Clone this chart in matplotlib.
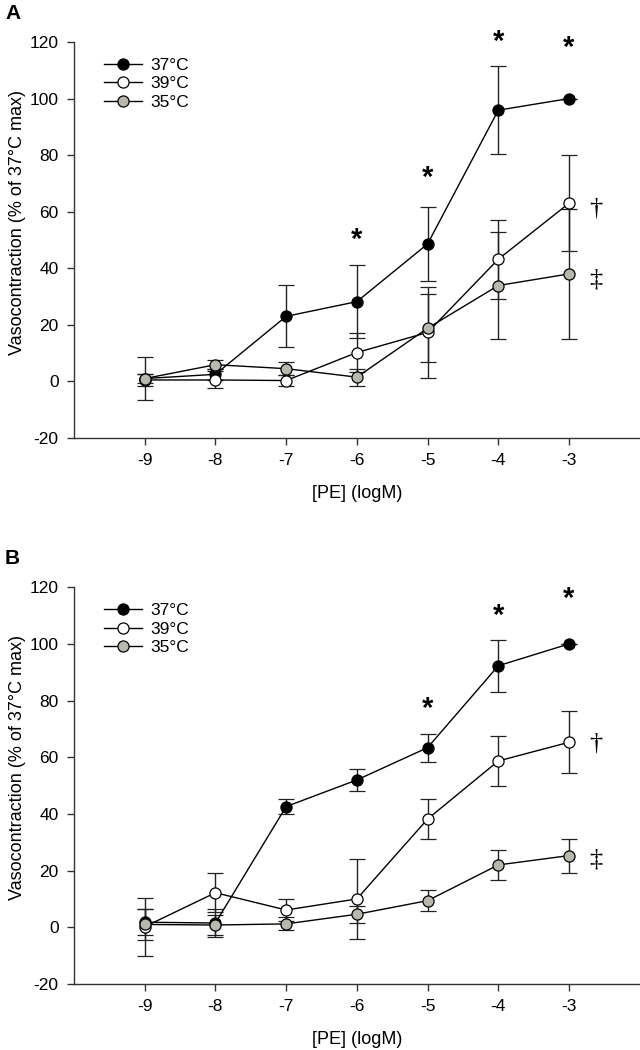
import matplotlib
matplotlib.use("Agg")
import matplotlib.pyplot as plt

plt.rcParams['font.family'] = ['Liberation Sans', 'DejaVu Sans']
plt.rcParams['axes.unicode_minus'] = False

# x positions (log M of phenylephrine)
conc = [-9, -8, -7, -6, -5, -4, -3]
labels = ['37°C', '39°C', '35°C']

# Panel A means and errors
a_37 = [1.0, 2.5, 23.0, 28.2, 48.6, 95.9, 100.0]
a_37_err = [7.5, 2.0, 11.0, 13.0, 13.0, 15.5, 0.0]
a_39 = [0.5, 0.5, 0.3, 10.2, 17.3, 43.2, 63.0]
a_39_err = [2.0, 3.0, 2.0, 7.0, 16.0, 14.0, 17.0]
a_35 = [1.0, 5.9, 4.5, 1.5, 18.8, 33.9, 38.0]
a_35_err = [1.5, 1.5, 2.2, 3.0, 12.0, 19.0, 23.0]

# Panel B means and errors
b_37 = [1.8, 1.5, 42.6, 52.0, 63.4, 92.3, 100.0]
b_37_err = [4.5, 5.0, 2.6, 3.8, 4.9, 9.1, 0.0]
b_39 = [0.2, 12.2, 6.1, 10.0, 38.2, 58.7, 65.3]
b_39_err = [10.2, 6.8, 4.0, 14.0, 7.0, 8.9, 11.0]
b_35 = [1.0, 0.8, 1.2, 4.6, 9.4, 22.0, 25.3]
b_35_err = [5.5, 3.5, 2.3, 3.0, 3.7, 5.2, 6.0]

# significance marks
a_star_x = [-6, -5, -4, -3]
a_star_y = [50, 72, 120, 118]
b_star_x = [-5, -4, -3]
b_star_y = [77, 110, 116]
a_dag_y = [61, 36]
b_dag_y = [65, 24]

fills = ['black', 'white', '#b8b8ae']

fig = plt.figure(figsize=(6.4, 10.5), dpi=100)
axA = fig.add_axes([0.1156, 0.5829, 0.884, 0.3771])
axB = fig.add_axes([0.1156, 0.0629, 0.884, 0.3778])


def panel(ax, series, errs, star_x, star_y, dag_y, letter):
    for ys, es, fc, lab in zip(series, errs, fills, labels):
        ax.errorbar(conc, ys, yerr=es, color='black', lw=1.0,
                    marker='o', ms=8, mfc=fc, mec='black', mew=0.9,
                    ecolor='#222222', elinewidth=1.0, capsize=6, capthick=1.0,
                    label=lab)
    for x, y in zip(star_x, star_y):
        ax.text(x, y, '*', ha='center', va='center', fontsize=21,
                fontweight='bold')
    ax.text(-2.62, dag_y[0], '†', ha='center', va='center', fontsize=19,
            family=['Liberation Serif', 'DejaVu Serif'])
    ax.text(-2.62, dag_y[1], '‡', ha='center', va='center', fontsize=19,
            family=['Liberation Serif', 'DejaVu Serif'])
    ax.set_xlim(-10, -2)
    ax.set_ylim(-20, 120)
    ax.set_xticks(conc)
    ax.set_xticklabels([str(c) for c in conc])
    ax.set_yticks(range(-20, 121, 20))
    ax.spines['top'].set_visible(False)
    ax.spines['right'].set_visible(False)
    for s in ['left', 'bottom']:
        ax.spines[s].set_color('#333333')
        ax.spines[s].set_linewidth(1.0)
    ax.tick_params(direction='out', length=5, width=1.0, color='#333333',
                   labelsize=12.5, pad=6)
    ax.set_xlabel('[PE] (logM)', fontsize=13, labelpad=12)
    ax.set_ylabel('Vasocontraction (% of 37°C max)', fontsize=13, labelpad=8)
    ax.yaxis.set_label_coords(-0.085, 0.545)
    handles, labs = ax.get_legend_handles_labels()
    handles = [h[0] for h in handles]
    ax.legend(handles, labs, loc='upper left', frameon=False, fontsize=12.5,
              handlelength=2.2, handletextpad=0.5, labelspacing=0.2,
              bbox_to_anchor=(0.025, 1.0))
    fig.text(0.008, ax.get_position().y1 + 0.027, letter, fontsize=15,
             fontweight='bold', va='center')


panel(axA, [a_37, a_39, a_35], [a_37_err, a_39_err, a_35_err],
      a_star_x, a_star_y, a_dag_y, 'A')
panel(axB, [b_37, b_39, b_35], [b_37_err, b_39_err, b_35_err],
      b_star_x, b_star_y, b_dag_y, 'B')

fig.savefig('out.png', dpi=100)
